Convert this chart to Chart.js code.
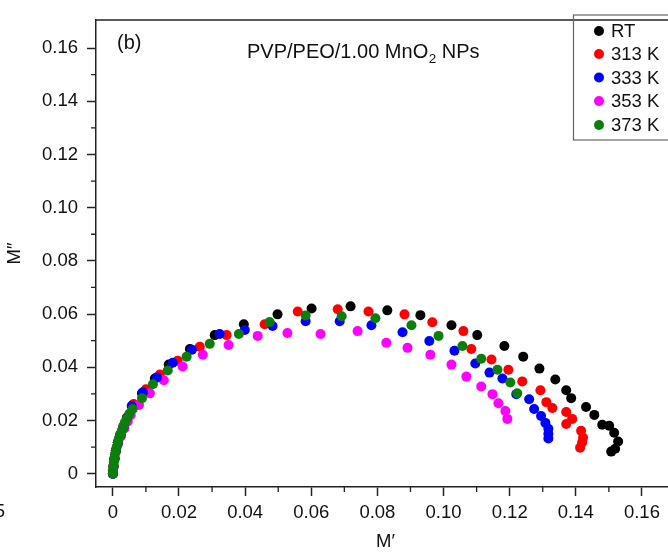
<!DOCTYPE html>
<html lang="en">
  <head>
    <meta charset="UTF-8" />
    <title>modulus</title>
    <style>
      html, body { margin: 0; padding: 0; background: #fff; overflow: hidden; }
      .chart-view { width: 680px; height: 553px; }
    </style>
  </head>
  <body>
    <div class="chart-view"><canvas id="chart" width="680" height="553"></canvas></div>

    <script src="https://cdn.jsdelivr.net/npm/chart.js@4.4.1/dist/chart.umd.min.js"></script>
    <script>
      //data  [M', M'']
      const seriesLabels = ['RT', '313 K', '333 K', '353 K', '373 K'];
      const seriesColors = ['#000000', '#ff0000', '#0000ff', '#ff00ff', '#0a800a'];

      const rt = [
        [0, 0], [0.0002, 0.0028], [0.0005, 0.0057], [0.0009, 0.0087], [0.0015, 0.0117], [0.0023, 0.0147],
        [0.0032, 0.0176], [0.0043, 0.021], [0.006, 0.0258], [0.0088, 0.0302], [0.0127, 0.0358], [0.0169, 0.041],
        [0.0233, 0.0469], [0.0308, 0.0521], [0.0396, 0.0562], [0.0498, 0.0599], [0.0601, 0.0621], [0.0719, 0.0629],
        [0.083, 0.0614], [0.093, 0.0596], [0.1024, 0.0558], [0.1102, 0.0521], [0.1184, 0.048], [0.1241, 0.044],
        [0.129, 0.0395], [0.1338, 0.0354], [0.1371, 0.0314], [0.1386, 0.0284], [0.1431, 0.0251], [0.1456, 0.0221],
        [0.148, 0.0184], [0.1501, 0.018], [0.1516, 0.0154], [0.1528, 0.0121], [0.1519, 0.0094], [0.1507, 0.0083]
      ];
      const k313 = [
        [0, 0], [0.0002, 0.0029], [0.0005, 0.0058], [0.0009, 0.0088], [0.0015, 0.0118], [0.0023, 0.0148],
        [0.0032, 0.0178], [0.0043, 0.0212], [0.0063, 0.0262], [0.01, 0.0317], [0.0142, 0.0373], [0.0196, 0.0425],
        [0.0263, 0.0477], [0.0344, 0.0521], [0.0459, 0.0562], [0.0559, 0.061], [0.068, 0.0618], [0.0773, 0.061],
        [0.0882, 0.0599], [0.0966, 0.0569], [0.106, 0.0536], [0.1084, 0.0469], [0.1145, 0.0429], [0.1196, 0.0391],
        [0.1238, 0.0347], [0.1293, 0.0314], [0.1311, 0.0269], [0.1329, 0.0247], [0.1371, 0.0232], [0.1389, 0.0206],
        [0.1371, 0.0187], [0.1416, 0.0161], [0.1422, 0.0135], [0.1419, 0.0117], [0.1413, 0.0098]
      ];
      const k333 = [
        [0, 0], [0.0002, 0.0027], [0.0005, 0.0056], [0.0009, 0.0086], [0.0015, 0.0116], [0.0023, 0.0146],
        [0.0032, 0.0175], [0.0042, 0.0208], [0.0057, 0.0254], [0.0091, 0.0306], [0.0133, 0.0362], [0.0181, 0.0417],
        [0.0239, 0.0466], [0.0323, 0.0525], [0.0399, 0.054], [0.0483, 0.0555], [0.0583, 0.0573], [0.0686, 0.0573],
        [0.0782, 0.0558], [0.0876, 0.0532], [0.0957, 0.0499], [0.1033, 0.0462], [0.1096, 0.0414], [0.1139, 0.038],
        [0.1178, 0.0358], [0.122, 0.0299], [0.1259, 0.028], [0.1274, 0.0243], [0.1295, 0.0217], [0.1308, 0.0191],
        [0.1317, 0.0169], [0.1317, 0.015], [0.1317, 0.0132]
      ];
      const k353 = [
        [0, 0], [0.0002, 0.0026], [0.0005, 0.0055], [0.001, 0.0084], [0.0016, 0.0113], [0.0025, 0.0142],
        [0.0035, 0.017], [0.0045, 0.0196], [0.0054, 0.0221], [0.0079, 0.0258], [0.0112, 0.0302], [0.0154, 0.0351],
        [0.0211, 0.0403], [0.0272, 0.0447], [0.035, 0.0484], [0.0438, 0.0518], [0.0528, 0.0529], [0.0628, 0.0525],
        [0.074, 0.0536], [0.0827, 0.0492], [0.0891, 0.0473], [0.096, 0.0447], [0.1024, 0.041], [0.1069, 0.0365],
        [0.1114, 0.0328], [0.1148, 0.0299], [0.1166, 0.0265], [0.1187, 0.0236], [0.1193, 0.0206]
      ];
      const k373 = [
        [0, 0], [0, 0.0013], [0.0002, 0.0028], [0.0003, 0.0043], [0.0005, 0.0057], [0.0006, 0.0072],
        [0.0009, 0.0087], [0.0012, 0.0102], [0.0015, 0.0117], [0.0018, 0.0132], [0.0023, 0.0147], [0.0027, 0.0161],
        [0.0032, 0.0176], [0.0036, 0.0191], [0.0042, 0.0206], [0.005, 0.0225], [0.006, 0.0243], [0.0088, 0.0284],
        [0.0121, 0.0336], [0.0166, 0.0388], [0.0223, 0.044], [0.0293, 0.0488], [0.0381, 0.0525], [0.0474, 0.057],
        [0.0583, 0.0595], [0.0692, 0.0592], [0.0794, 0.0584], [0.0903, 0.0558], [0.0985, 0.0518], [0.1057, 0.048],
        [0.1114, 0.0432], [0.1163, 0.0391], [0.1202, 0.0343], [0.1223, 0.0302]
      ];
      const seriesData = [rt, k313, k333, k353, k373];
      const drawOrder = [4, 3, 1, 2, 0]; // green on top

      const xTickValues = [0, 0.02, 0.04, 0.06, 0.08, 0.1, 0.12, 0.14, 0.16];
      const xTickLabels = ['0', '0.02', '0.04', '0.06', '0.08', '0.10', '0.12', '0.14', '0.16'];
      const yTickValues = [0, 0.02, 0.04, 0.06, 0.08, 0.1, 0.12, 0.14, 0.16];
      const yTickLabels = ['0', '0.02', '0.04', '0.06', '0.08', '0.10', '0.12', '0.14', '0.16'];
      const xMinorTicks = [0.01, 0.03, 0.05, 0.07, 0.09, 0.11, 0.13, 0.15];
      const yMinorTicks = [0.01, 0.03, 0.05, 0.07, 0.09, 0.11, 0.13, 0.15];

      const FONT = '"Liberation Sans", Arial, sans-serif';
      const axisColor = '#222';

      //decorations: frame top, minor ticks, title, panel label, legend
      const decorations = {
        id: 'decorations',
        afterDraw(chart) {
          const { ctx, chartArea, scales } = chart;
          ctx.save();
          ctx.strokeStyle = axisColor;
          ctx.lineWidth = 1.5;
          ctx.beginPath();
          ctx.moveTo(chartArea.left - 0.75, chartArea.top);
          ctx.lineTo(chartArea.right, chartArea.top);
          ctx.stroke();

          ctx.lineWidth = 1.3;
          ctx.beginPath();
          xMinorTicks.forEach((v) => {
            const px = scales.x.getPixelForValue(v);
            ctx.moveTo(px, chartArea.bottom);
            ctx.lineTo(px, chartArea.bottom + 5);
          });
          yMinorTicks.forEach((v) => {
            const py = scales.y.getPixelForValue(v);
            ctx.moveTo(chartArea.left, py);
            ctx.lineTo(chartArea.left - 5, py);
          });
          ctx.stroke();

          // panel label and title
          ctx.fillStyle = '#111';
          ctx.textBaseline = 'alphabetic';
          ctx.textAlign = 'left';
          ctx.font = '20px ' + FONT;
          ctx.fillText('(b)', 117, 49);

          ctx.font = '20px ' + FONT;
          let tx = 247;
          const part1 = 'PVP/PEO/1.00 MnO';
          ctx.fillText(part1, tx, 58);
          tx += ctx.measureText(part1).width;
          ctx.font = '13.5px ' + FONT;
          ctx.fillText('2', tx + 0.5, 63);
          tx += ctx.measureText('2').width + 0.5;
          ctx.font = '20px ' + FONT;
          ctx.fillText(' NPs', tx, 58);

          // cut-off label from neighbouring panel
          ctx.font = '18.5px ' + FONT;
          ctx.textAlign = 'right';
          ctx.textBaseline = 'middle';
          ctx.fillText('5', 5, 512);

          // legend box
          ctx.strokeStyle = '#666';
          ctx.lineWidth = 1.2;
          ctx.strokeRect(573.5, 15, 140, 125);
          ctx.textAlign = 'left';
          ctx.textBaseline = 'middle';
          ctx.font = '18.5px ' + FONT;
          const rows = [31, 54, 77.5, 101, 125];
          seriesLabels.forEach((label, i) => {
            ctx.fillStyle = seriesColors[i];
            ctx.beginPath();
            ctx.arc(599, rows[i], 5, 0, Math.PI * 2);
            ctx.fill();
            ctx.fillStyle = '#111';
            ctx.fillText(label, 611, rows[i] + 1);
          });
          ctx.restore();
        }
      };

      //config
      const config = {
        type: 'scatter',
        data: {
          datasets: seriesData.map((pts, i) => ({
            label: seriesLabels[i],
            data: pts.map((p) => ({ x: p[0], y: p[1] })),
            backgroundColor: seriesColors[i],
            borderColor: seriesColors[i],
            pointRadius: 5,
            pointBorderWidth: 0,
            order: drawOrder[i]
          }))
        },
        options: {
          responsive: false,
          animation: false,
          events: [],
          layout: { padding: { top: 14, right: 4, left: 0, bottom: 0 } },
          plugins: { legend: { display: false }, tooltip: { enabled: false } },
          scales: {
            x: {
              type: 'linear',
              min: -0.0051,
              max: 0.17,
              afterFit: (s) => { s.height = 66; },
              afterBuildTicks: (s) => { s.ticks = xTickValues.map((v) => ({ value: v })); },
              ticks: {
                callback: (v, i) => xTickLabels[i],
                color: '#111',
                font: { family: FONT, size: 18.5 },
                padding: 6,
                maxRotation: 0,
                autoSkip: false
              },
              grid: { drawOnChartArea: false, tickLength: 9, tickColor: axisColor, tickWidth: 1.5 },
              border: { color: axisColor, width: 1.5 },
              title: { display: true, text: 'M\u2032', color: '#111', font: { family: FONT, size: 18.5 }, padding: { top: 0, bottom: 0 } }
            },
            y: {
              type: 'linear',
              min: -0.005,
              max: 0.1705,
              afterFit: (s) => { s.width = 96; },
              afterBuildTicks: (s) => { s.ticks = yTickValues.map((v) => ({ value: v })); },
              ticks: {
                callback: (v, i) => yTickLabels[i],
                color: '#111',
                font: { family: FONT, size: 18.5 },
                padding: 9,
                autoSkip: false
              },
              grid: { drawOnChartArea: false, tickLength: 9, tickColor: axisColor, tickWidth: 1.5 },
              border: { color: axisColor, width: 1.5 },
              title: { display: true, text: 'M\u2033', color: '#111', font: { family: FONT, size: 18.5 }, padding: { top: 4, bottom: 0 } }
            }
          }
        },
        plugins: [decorations]
      };

      //init
      const chart = new Chart(document.getElementById('chart'), config);
    </script>
  </body>
</html>
